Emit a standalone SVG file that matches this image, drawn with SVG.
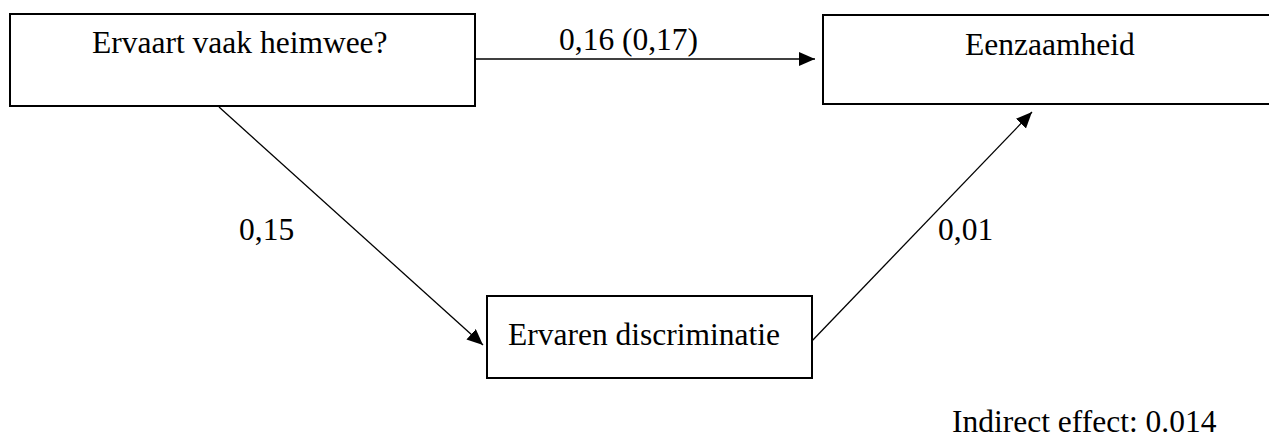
<svg xmlns="http://www.w3.org/2000/svg" width="1269" height="439" viewBox="0 0 1269 439">
<style>
.box{fill:#fff;stroke:#000;stroke-width:2}
.t{font-family:"Liberation Serif","Times New Roman",serif;font-size:31.5px;fill:#000}
.c{stroke:#000;stroke-width:1.3;fill:none;marker-end:url(#ah)}
</style>
<defs>
<marker id="ah" markerUnits="userSpaceOnUse" markerWidth="18" markerHeight="16" refX="16" refY="7" orient="auto">
<path d="M0,0 L16,7 L0,14 Z" fill="#000"/>
</marker>
</defs>
<rect width="1269" height="439" fill="#fff"/>
<g id="connectors">
<line class="c" x1="476" y1="59" x2="815" y2="59"/>
<line class="c" x1="219" y1="107" x2="483" y2="345"/>
<line class="c" x1="810" y1="343" x2="1032" y2="112"/>
</g>
<g id="node-heimwee">
<rect class="box" x="10" y="14" width="465" height="92"/>
<text class="t" x="92" y="53">Ervaart vaak heimwee?</text>
</g>
<g id="node-eenzaamheid">
<rect class="box" x="823" y="15" width="460" height="89"/>
<text class="t" x="965" y="55">Eenzaamheid</text>
</g>
<g id="node-discriminatie">
<rect class="box" x="487" y="296" width="325" height="82"/>
<text class="t" x="508" y="345">Ervaren discriminatie</text>
</g>
<g id="labels">
<text class="t" x="559" y="50">0,16 (0,17)</text>
<text class="t" x="239" y="240">0,15</text>
<text class="t" x="938" y="240">0,01</text>
<text class="t" x="952" y="432">Indirect effect: 0.014</text>
</g>
</svg>
